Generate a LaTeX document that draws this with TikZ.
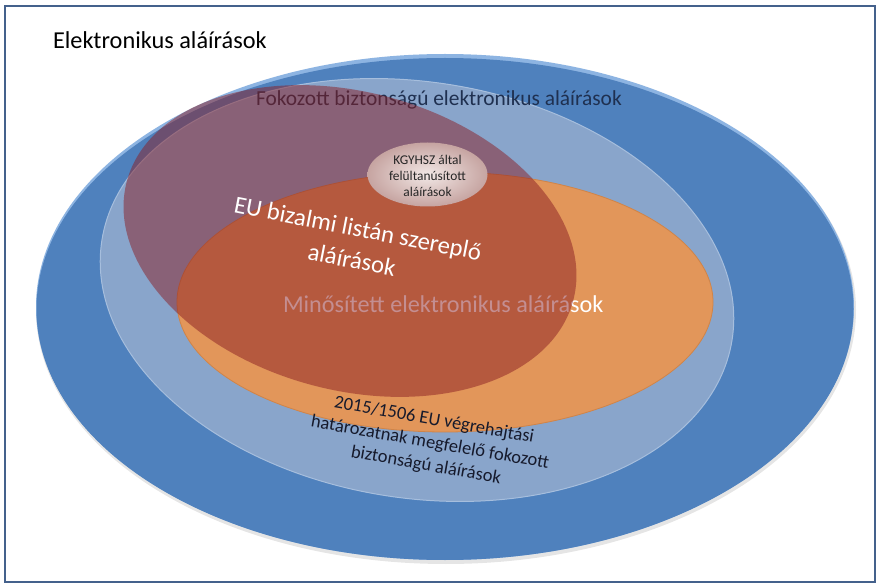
\documentclass[tikz,border=0pt]{standalone}
\usepackage{fontspec}
\setmainfont{Carlito}
\definecolor{framec}{HTML}{44618C}
\definecolor{bluerim}{HTML}{8DB4E2}
\definecolor{bluemain}{HTML}{4F81BD}
\definecolor{lightb}{HTML}{89A5CB}
\definecolor{lightbrim}{HTML}{A6BEDD}
\definecolor{orangec}{HTML}{E2965A}
\definecolor{orangerim}{HTML}{D08448}
\definecolor{mauvec}{HTML}{8A1E24}
\definecolor{kin}{HTML}{F2E8E6}
\definecolor{kout}{HTML}{C6A4A1}
\definecolor{navyt}{HTML}{1F3050}
\definecolor{darkt}{HTML}{161A2C}
\tikzset{
  lbl/.style={inner sep=0pt, outer sep=0pt},
}
\begin{document}
\begin{tikzpicture}[x=1pt,y=-1pt]
\useasboundingbox (0,0) rectangle (879,588);
\fill[white] (0,0) rectangle (879,588);
\draw[framec,line width=2.5pt] (5,6) rectangle (875,582);
% outer ellipse: Elektronikus aláírások
\fill[black,opacity=0.10] (446,310) ellipse [x radius=410pt,y radius=254pt];
\fill[bluerim] (445,307) ellipse [x radius=409pt,y radius=253pt];
\fill[bluemain] (445,309) ellipse [x radius=408.5pt,y radius=251pt];
% light blue ellipse: Fokozott
\filldraw[fill=lightb,draw=lightbrim,line width=1pt,rotate around={-9:(417,290)}] (417,290) ellipse [x radius=319pt,y radius=208pt];
\node[lbl,anchor=base west,font=\fontsize{21.4}{25}\selectfont,text=navyt] (fok) at (256,106) {Fokozott biztonságú elektronikus aláírások};
% orange ellipse: Minősített
\filldraw[fill=orangec,draw=orangerim,line width=0.8pt] (445,302) ellipse [x radius=268pt,y radius=130pt];
\node[lbl,anchor=base west,font=\fontsize{24.2}{28}\selectfont,text=white] (min) at (283,313) {Minősített elektronikus aláírások};
% mauve ellipse: EU bizalmi lista
\fill[mauvec,opacity=0.5,rotate around={-15:(350,241)}] (350,241) ellipse [x radius=231pt,y radius=149pt];
\node[lbl,align=center,rotate=-11,font=\fontsize{24.6}{32}\selectfont,text=white] (eu) at (355,244) {EU bizalmi listán szereplő\\aláírások};
% KGYHSZ ellipse
\shade[inner color=kin,outer color=kout] (427.5,174.5) ellipse [x radius=60pt,y radius=32pt];
\node[lbl,align=center,font=\fontsize{13.4}{16}\selectfont,text=black!85] (kg) at (427.5,176) {KGYHSZ által\\felültanúsított\\aláírások};
% 2015/1506 text
\node[lbl,align=center,rotate=-10,font=\fontsize{18.5}{23}\selectfont,text=darkt] (impl) at (430,443) {2015/1506 EU végrehajtási\\határozatnak megfelelő fokozott\\biztonságú aláírások};
% title
\node[lbl,anchor=base west,font=\fontsize{24.3}{28}\selectfont,text=black] (title) at (53,49) {Elektronikus aláírások};
\end{tikzpicture}
\end{document}
